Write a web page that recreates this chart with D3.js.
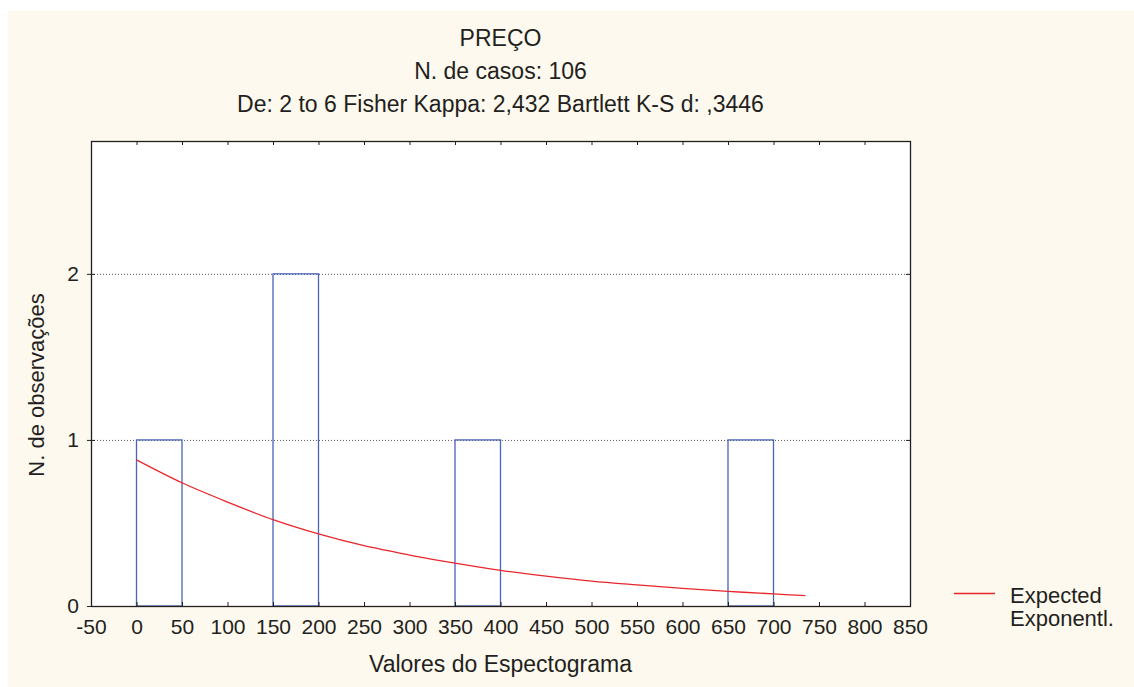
<!DOCTYPE html>
<html>
<head>
<meta charset="utf-8">
<script src="https://cdn.jsdelivr.net/npm/d3@7/dist/d3.min.js"></script>
<style>
  html, body { margin: 0; padding: 0; background: #ffffff; }
  svg { display: block; }
  text { font-family: "Liberation Sans", Arial, sans-serif; fill: #231f20; }
</style>
</head>
<body>
<svg id="chart" width="1134" height="687"></svg>
<script>
// Histogram bins (lower edge, upper edge) and observed counts
const binStart = [0, 150, 350, 650];
const binEnd   = [50, 200, 400, 700];
const counts   = [1, 2, 1, 1];

// Expected exponential curve (value, expected count)
const expX = [0, 50, 100, 150, 200, 250, 300, 350, 400, 450, 500, 550, 600, 650, 700, 735];
const expY = [0.88, 0.742, 0.626, 0.52, 0.434, 0.363, 0.307, 0.258, 0.215, 0.18, 0.15, 0.127, 0.106, 0.088, 0.073, 0.062];

// Axis ticks
const xTicks = [-50, 0, 50, 100, 150, 200, 250, 300, 350, 400, 450, 500, 550, 600, 650, 700, 750, 800, 850];
const yTicks = [0, 1, 2];

const titleLines = ["PREÇO", "N. de casos: 106", "De: 2 to 6 Fisher Kappa: 2,432 Bartlett K-S d: ,3446"];
const xTitle = "Valores do Espectograma";
const yTitle = "N. de observações";
const legendLines = ["Expected", "Exponentl."];

const svg = d3.select("#chart");
const W = 1134, H = 687;
const plot = { left: 91, right: 910, top: 141, bottom: 606 };

// Cream page background
svg.append("rect").attr("x", 8).attr("y", 11).attr("width", W - 8).attr("height", H - 11)
  .attr("fill", "#fdf9ee");

const x = d3.scaleLinear().domain([-50, 850]).range([plot.left, plot.right]);
const y = d3.scaleLinear().domain([0, 2.8]).range([plot.bottom, plot.top]);

// Plot area
svg.append("rect")
  .attr("x", plot.left).attr("y", plot.top)
  .attr("width", plot.right - plot.left).attr("height", plot.bottom - plot.top)
  .attr("fill", "#ffffff");

// Dotted horizontal grid
svg.append("g").selectAll("line").data(yTicks.filter(d => d > 0)).join("line")
  .attr("x1", plot.left).attr("x2", plot.right)
  .attr("y1", d => y(d) + 0.5).attr("y2", d => y(d) + 0.5)
  .attr("stroke", "#555").attr("stroke-width", 1).attr("stroke-dasharray", "1,2");

// Histogram bars (outline only)
svg.append("g").selectAll("rect").data(counts).join("rect")
  .attr("x", (d, i) => x(binStart[i]))
  .attr("y", d => y(d))
  .attr("width", (d, i) => x(binEnd[i]) - x(binStart[i]))
  .attr("height", d => y(0) - y(d))
  .attr("fill", "none")
  .attr("stroke", "#4a64b8").attr("stroke-width", 1.3);

// Expected exponential line
const line = d3.line().x(d => x(d[0])).y(d => y(d[1])).curve(d3.curveCatmullRom);
svg.append("path")
  .datum(expX.map((v, i) => [v, expY[i]]))
  .attr("d", line)
  .attr("fill", "none").attr("stroke", "#e8262b").attr("stroke-width", 1.3);

// Axes with inward ticks
const fmt = d => (d < 0 ? "-" + Math.abs(d) : String(d));
const axisBottom = d3.axisBottom(x).tickValues(xTicks).tickSizeInner(-4).tickSizeOuter(0).tickPadding(13).tickFormat(fmt);
const gx = svg.append("g").attr("transform", `translate(0,${plot.bottom})`).call(axisBottom);
gx.select(".domain").remove();
gx.selectAll("text").style("font-size", "21px").attr("fill", "#231f20").attr("dy", "0.71em");
gx.selectAll("line").attr("stroke", "#231f20");

const axisTop = d3.axisTop(x).tickValues(xTicks.slice(1, -1)).tickSizeInner(-4).tickSizeOuter(0).tickFormat("");
const gt = svg.append("g").attr("transform", `translate(0,${plot.top})`).call(axisTop);
gt.select(".domain").remove();
gt.selectAll("line").attr("stroke", "#231f20");

const axisLeft = d3.axisLeft(y).tickValues(yTicks).tickSizeInner(4).tickSizeOuter(0).tickPadding(8).tickFormat(d3.format("d"));
const gy = svg.append("g").attr("transform", `translate(${plot.left},0)`).call(axisLeft);
gy.select(".domain").remove();
gy.selectAll("text").style("font-size", "21px").attr("fill", "#231f20");
gy.selectAll("line").attr("stroke", "#231f20").attr("x2", 4).attr("x1", -4);

const axisRight = d3.axisRight(y).tickValues(yTicks.slice(1)).tickSizeInner(-4).tickSizeOuter(0).tickFormat("");
const gr = svg.append("g").attr("transform", `translate(${plot.right},0)`).call(axisRight);
gr.select(".domain").remove();
gr.selectAll("line").attr("stroke", "#231f20");

// Plot frame
svg.append("rect")
  .attr("x", plot.left + 0.5).attr("y", plot.top + 0.5)
  .attr("width", plot.right - plot.left).attr("height", plot.bottom - plot.top)
  .attr("fill", "none").attr("stroke", "#231f20").attr("stroke-width", 1.3);

// Titles
const cx = (plot.left + plot.right) / 2;
svg.append("g").selectAll("text").data(titleLines).join("text")
  .attr("x", cx).attr("y", (d, i) => 46 + i * 33)
  .attr("text-anchor", "middle").style("font-size", "23px").text(d => d);

svg.append("text").attr("x", cx).attr("y", 672)
  .attr("text-anchor", "middle").style("font-size", "23px").text(xTitle);

svg.append("text")
  .attr("transform", `translate(44,385) rotate(-90)`)
  .attr("text-anchor", "middle").style("font-size", "22px").text(yTitle);

// Legend
svg.append("line").attr("x1", 954).attr("x2", 995).attr("y1", 593.5).attr("y2", 593.5)
  .attr("stroke", "#e8262b").attr("stroke-width", 1.3);
svg.append("g").selectAll("text").data(legendLines).join("text")
  .attr("x", 1010).attr("y", (d, i) => 603 + i * 23)
  .style("font-size", "22px").text(d => d);
</script>
</body>
</html>
